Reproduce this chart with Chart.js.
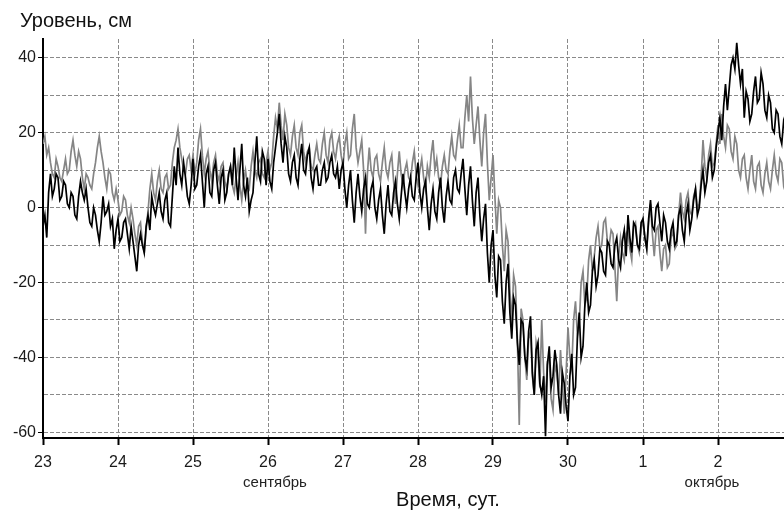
<!DOCTYPE html>
<html>
<head>
<meta charset="utf-8">
<script src="https://cdn.jsdelivr.net/npm/chart.js@4.4.1/dist/chart.umd.min.js"></script>
<style>
  html, body { margin: 0; padding: 0; background: #fff; }
  #wrap { width: 784px; height: 510px; position: relative; }
</style>
</head>
<body>
<div id="wrap"><canvas id="uroven"></canvas></div>
<script>
// подписи суток по оси X (0 = 23 сентября)
var dayLabels = ['23', '24', '25', '26', '27', '28', '29', '30', '1', '2'];
var monthLabels = [{ text: 'сентябрь', day: 3 }, { text: 'октябрь', day: 9 }];
var yLabels = [-60, -40, -20, 0, 20, 40];
var yTitle = 'Уровень, см';
var xTitle = 'Время, сут.';

// шаг по времени, сут.
var timeStep = 0.025;

// уровень, см (чёрная кривая), одна строка = одни сутки
var levelBlack = [
  -5, -2, -8, 4, 9, 3, 5, 9, 8, 2, 3, 7, 6, 1, 0, 4, 3, -2, -3, 3, 7, 4, 2, 5, 0, -4, -5, 0, -2, -6, -9, -4, 3, -2, -1, 1, -5, -3, -11, -6,
  -3, -9, -8, -4, -3, -7, -11, -5, -9, -13, -17, -10, -7, -10, -12, -5, -2, -6, 3, 0, -2, 1, 4, -1, -3, 2, 4, -4, -5, 3, 11, 6, 16, 9, 6, 12, 8, 3, 1, 6,
  13, 5, 6, 11, 14, 7, 0, 9, 11, 4, 3, 10, 12, 6, 1, 8, 10, 2, 4, 9, 11, 6, 16, 8, 2, 10, 17, 6, 3, 8, -1, 2, 4, 12, 19, 9, 7, 15, 13, 6,
  13, 7, 5, 12, 16, 20, 25, 17, 12, 19, 16, 9, 7, 12, 14, 8, 6, 13, 17, 10, 9, 14, 16, 8, 5, 10, 11, 6, 6, 10, 12, 7, 8, 12, 14, 9, 8, 11, 5, 10,
  12, 5, 0, 6, 10, 2, -4, 4, 9, 3, -1, 5, 8, 1, 0, 5, 7, 0, -3, 2, 5, -2, -7, 1, 6, -1, -2, 4, 7, 1, -3, 3, 9, 4, 0, 5, 8, 3, 2, 8,
  12, 4, 0, 5, 7, 0, -6, 1, 5, -1, -3, 4, 8, 0, -4, 3, 7, 2, 1, 8, 10, 5, 4, 9, 13, 5, -2, 6, 11, 2, -5, 4, 8, -2, -9, -3, 1, -12, -20, -10,
  -6, -18, -24, -13, -14, -25, -31, -20, -15, -28, -35, -24, -26, -36, -42, -30, -31, -40, -43, -33, -29, -44, -50, -38, -36, -47, -50, -45, -61, -42, -37, -48, -45, -38, -42, -50, -55, -44, -47, -53,
  -57, -45, -39, -50, -48, -35, -28, -40, -37, -26, -20, -28, -26, -17, -14, -21, -18, -11, -12, -17, -18, -9, -10, -15, -16, -10, -8, -14, -16, -9, -6, -13, -2, -8, -12, -4, -5, -10, -11, -4,
  -3, -8, -11, -3, 2, -5, -6, 0, 1, -4, -9, -2, -4, -9, -11, -6, -4, -10, -9, -2, 0, -6, -9, -2, 1, -6, -3, 2, 5, -2, 0, 6, 10, 4, 7, 12, 14, 8, 10, 16,
  20, 24, 18, 27, 33, 26, 32, 38, 40, 37, 44, 38, 33, 37, 24, 31, 29, 23, 25, 31, 35, 28, 29, 36, 33, 26, 24, 30, 28, 21, 20, 26, 25, 19, 17, 23, 21
];

// уровень, см (серая кривая)
var levelGray = [
  17, 19, 14, 16, 12, 9, 8, 13, 11, 8, 7, 10, 13, 9, 10, 15, 18, 14, 11, 15, 13, 8, 5, 9, 8, 6, 5, 9, 12, 16, 19, 15, 12, 8, 5, 10, 9, 4, 2, 5,
  2, -2, -1, 3, 2, -2, -4, 0, -3, -7, -10, -5, -4, -9, -12, -6, -1, 5, 9, 4, 2, 7, 10, 5, 4, 8, 9, 5, 6, 12, 16, 18, 21, 16, 13, 10, 9, 13, 14, 10,
  14, 9, 12, 18, 21, 14, 9, 13, 15, 10, 7, 12, 14, 9, 7, 11, 12, 7, 5, 9, 11, 6, 4, 8, 12, 6, 2, 7, 10, 6, 5, 11, 15, 10, 8, 12, 13, 9, 8, 12,
  15, 10, 12, 19, 24, 21, 28, 22, 18, 25, 22, 16, 14, 19, 22, 16, 14, 20, 22, 15, 12, 15, 16, 11, 10, 14, 17, 13, 12, 17, 20, 14, 12, 18, 20, 15, 13, 17, 19, 14,
  11, 17, 20, 13, 14, 21, 25, 16, 12, 15, 18, 10, -7, 9, 16, 10, 8, 13, 14, 9, 7, 12, 16, 10, 8, 12, 14, 7, 1, 9, 15, 9, 6, 10, 12, 8, 7, 12, 15, 9,
  6, 10, 13, 8, 5, 11, 8, 14, 18, 10, 13, 8, 6, 11, 14, 10, 9, 15, 19, 14, 13, 18, 22, 16, 16, 24, 30, 23, 35, 24, 17, 22, 27, 18, 11, 20, 25, 12, 2, 8,
  14, 3, -7, 2, 0, -10, -17, -6, -9, -22, -31, -18, -21, -35, -58, -27, -30, -40, -46, -35, -33, -45, -50, -36, -39, -48, -30, -44, -52, -41, -40, -51, -54, -42, -44, -50, -38, -47, -55, -44,
  -32, -40, -43, -30, -25, -34, -31, -20, -17, -26, -24, -14, -10, -17, -13, -8, -5, -11, -10, -4, -3, -9, -10, -6, -7, -16, -25, -13, -8, -12, -14, -7, -6, -11, -14, -5, -4, -10, -12, -6,
  -3, -8, -11, -4, 1, -7, -13, -6, -5, -12, -17, -11, -10, -16, -15, -8, -6, -11, -10, -2, 4, -1, -3, 2, 4, -1, -2, 3, 5, 0, 1, 8, 18, 11, 8, 14, 17, 11, 12, 17,
  22, 17, 25, 19, 16, 22, 21, 15, 13, 19, 17, 10, 8, 13, 14, 8, 5, 10, 14, 7, 5, 11, 12, 6, 4, 9, 12, 7, 5, 10, 14, 9, 7, 13, 12, 6, 8
];

function toPoints(values) {
  return values.map(function (v, i) { return { x: i * timeStep, y: v }; });
}

var FONT = '"Liberation Sans", Arial, sans-serif';

var textPlugin = {
  id: 'texts',
  afterDraw: function (chart) {
    var ctx = chart.ctx;
    var xs = chart.scales.x;
    var nudge = [7, -6];
    ctx.save();
    ctx.fillStyle = '#111';
    ctx.textBaseline = 'alphabetic';
    ctx.font = '20px ' + FONT;
    ctx.textAlign = 'left';
    ctx.fillText(yTitle, 20, 27);
    ctx.textAlign = 'center';
    ctx.fillText(xTitle, 448, 506);
    ctx.font = '15px ' + FONT;
    ctx.fillStyle = '#222';
    monthLabels.forEach(function (m, i) {
      ctx.fillText(m.text, xs.getPixelForValue(m.day) + nudge[i], 487);
    });
    ctx.restore();
  }
};

var ctxUroven = document.getElementById('uroven').getContext('2d');
var chartUroven = new Chart(ctxUroven, {
  type: 'line',
  data: {
    datasets: [{
      label: 'black',
      data: toPoints(levelBlack),
      borderColor: '#000000',
      borderWidth: 1.7,
      pointRadius: 0,
      tension: 0
    }, {
      label: 'gray',
      data: toPoints(levelGray),
      borderColor: '#858585',
      borderWidth: 1.7,
      pointRadius: 0,
      tension: 0
    }]
  },
  options: {
    responsive: true,
    maintainAspectRatio: false,
    animation: false,
    layout: { padding: { top: 39, left: 0, right: 0, bottom: 0 } },
    plugins: { legend: { display: false }, tooltip: { enabled: false } },
    scales: {
      x: {
        type: 'linear',
        min: 0,
        max: 9.88,
        afterBuildTicks: function (scale) {
          scale.ticks = dayLabels.map(function (_, i) { return { value: i }; });
        },
        afterFit: function (scale) { scale.height = 72; },
        ticks: {
          autoSkip: false,
          maxRotation: 0,
          padding: 8,
          color: '#1a1a1a',
          font: { family: FONT, size: 16 },
          callback: function (v) { return dayLabels[v]; }
        },
        grid: {
          color: '#8a8a8a',
          lineWidth: 1,
          tickLength: 7,
          tickColor: '#000',
          tickWidth: 2
        },
        border: { display: true, color: '#000', width: 2, dash: [4, 2] }
      },
      y: {
        min: -61.5,
        max: 45,
        afterBuildTicks: function (scale) {
          var t = [];
          for (var v = -60; v <= 45; v += 5) t.push({ value: v });
          scale.ticks = t;
        },
        afterFit: function (scale) { scale.width = 43; },
        ticks: {
          padding: 2,
          color: '#1a1a1a',
          font: { family: FONT, size: 16 },
          callback: function (v) { return yLabels.indexOf(v) >= 0 ? String(v) : ''; }
        },
        grid: {
          color: '#8a8a8a',
          lineWidth: 1,
          tickLength: 5,
          tickWidth: 1,
          tickColor: function (c) { return c.tick && yLabels.indexOf(c.tick.value) >= 0 ? '#000' : 'rgba(0,0,0,0)'; }
        },
        border: { display: true, color: '#000', width: 2, dash: [4, 2] }
      }
    }
  },
  plugins: [textPlugin]
});
</script>
</body>
</html>
